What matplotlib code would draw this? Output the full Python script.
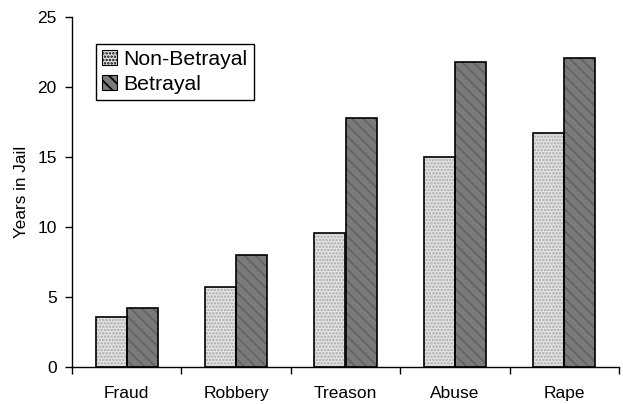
import matplotlib
matplotlib.use("Agg")
import matplotlib.pyplot as plt
import numpy as np
from matplotlib.patches import Patch

categories = ["Fraud", "Robbery", "Treason", "Abuse", "Rape"]
non_betrayal = [3.6, 5.7, 9.6, 15.0, 16.7]
betrayal = [4.2, 8.0, 17.8, 21.8, 22.1]
series_names = ["Non-Betrayal", "Betrayal"]
yticks = [0, 5, 10, 15, 20, 25]

plt.rcParams['font.family'] = ['Liberation Sans', 'DejaVu Sans']
plt.rcParams['hatch.linewidth'] = 1.2

fig = plt.figure(figsize=(6.23, 4.04), dpi=100)
ax = fig.add_axes([72/623, 1-367/404, 547/623, 350/404])

x = np.arange(len(categories))
w = 0.285
nb_face, nb_hatch = '#e4e4e4', '#a8a8a8'
b_face, b_hatch = '#7a7a7a', '#626262'

# fills with hatch (hatch colour from edgecolor, linewidth 0)
ax.bar(x - w/2, non_betrayal, w, color=nb_face, edgecolor=nb_hatch, hatch='.....', linewidth=0, zorder=2)
ax.bar(x + w/2, betrayal, w, color=b_face, edgecolor=b_hatch, hatch='\\\\\\', linewidth=0, zorder=2)
# outlines
ax.bar(x - w/2, non_betrayal, w, fill=False, edgecolor='black', linewidth=1.2, zorder=3)
ax.bar(x + w/2, betrayal, w, fill=False, edgecolor='black', linewidth=1.2, zorder=3)

ax.set_xlim(-0.5, len(categories) - 0.5)
ax.set_ylim(0, 25)
ax.set_yticks(yticks)
ax.set_xticks(x)
ax.set_xticklabels(categories, fontsize=12.5)
ax.set_xticks(np.arange(len(categories) + 1) - 0.5, minor=True)
ax.tick_params(axis='x', which='major', length=0, pad=14)
ax.tick_params(axis='x', which='minor', length=5, width=1, direction='out')
ax.tick_params(axis='y', length=5, width=1, direction='out', labelsize=12.5, pad=6)
ax.set_ylabel("Years in Jail", fontsize=12.3, labelpad=6)
for s in ['top', 'right']:
    ax.spines[s].set_visible(False)
for s in ['left', 'bottom']:
    ax.spines[s].set_linewidth(1.0)

handles = [
    Patch(facecolor=nb_face, edgecolor='black', hatch='.....', linewidth=0.8),
    Patch(facecolor=b_face, edgecolor='black', hatch='\\\\\\', linewidth=0.8),
]
leg = ax.legend(handles, series_names, loc='upper left', bbox_to_anchor=(0.043, 0.923),
                borderaxespad=0, fontsize=15.3, fancybox=False, edgecolor='black',
                framealpha=1, handlelength=0.7, handleheight=0.7, handletextpad=0.3,
                borderpad=0.3, labelspacing=0.25)
leg.get_frame().set_linewidth(1.0)

fig.savefig("out.png", dpi=100)
